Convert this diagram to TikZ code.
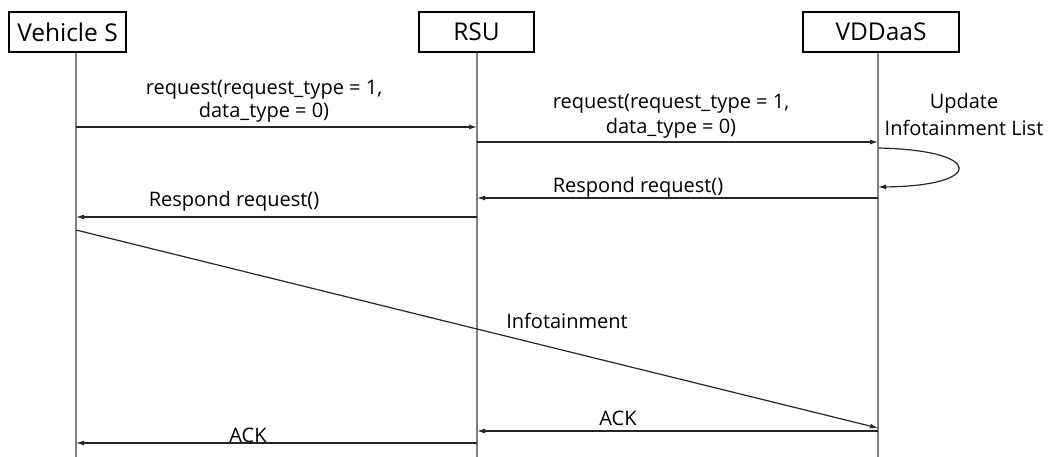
\documentclass[tikz,border=0pt]{standalone}
\usepackage{fontspec}
\setmainfont{Open Sans}
\usetikzlibrary{arrows.meta}

\begin{document}
\begin{tikzpicture}[x=1pt, y=-1pt, font=\fontsize{20}{23}\selectfont,
    actor/.style={draw, line width=1.2pt, minimum height=40pt, inner sep=0pt,
        font=\fontsize{24.5}{28}\selectfont},
    life/.style={draw=gray, line width=1.4pt},
    msg/.style={draw=black!85, line width=1.2pt, -{Latex[length=8pt, width=5pt]}},
    lbl/.style={align=center, inner sep=0pt}]
    \useasboundingbox (0,0) rectangle (1050,457);

    % Actors
    \node[actor, minimum width=117pt] (veh) at (67.5,32) {Vehicle S};
    \node[actor, minimum width=115pt] (rsu) at (476.5,32) {RSU};
    \node[actor, minimum width=156pt] (vdd) at (881,32) {VDDaaS};

    % Lifelines
    \coordinate (vehend) at (76,457);
    \coordinate (rsuend) at (477,457);
    \coordinate (vddend) at (878,457);
    \draw[life] (vehend |- veh.south) -- (vehend);
    \draw[life] (rsuend |- rsu.south) -- (rsuend);
    \draw[life] (vddend |- vdd.south) -- (vddend);

    % Message points
    \coordinate (v1) at (76,127);   \coordinate (r1) at (477,127);
    \coordinate (r2) at (477,142);  \coordinate (d2) at (878,142);
    \coordinate (d3) at (878,148);  \coordinate (d4) at (878,187);
    \coordinate (d5) at (878,198);  \coordinate (r5) at (477,198);
    \coordinate (r6) at (477,217);  \coordinate (v6) at (76,217);
    \coordinate (v7) at (76,230);   \coordinate (d7) at (878,428);
    \coordinate (d8) at (878,431);  \coordinate (r8) at (477,431);
    \coordinate (r9) at (477,443);  \coordinate (v9) at (76,443);

    % Messages
    \draw[msg] (v1) -- (r1);
    \draw[msg] (r2) -- (d2);
    \draw[msg] (d3) .. controls (985,150) and (985,186) .. (d4);
    \draw[msg] (d5) -- (r5);
    \draw[msg] (r6) -- (v6);
    \draw[msg] (v7) -- (d7);
    \draw[msg] (d8) -- (r8);
    \draw[msg] (r9) -- (v9);

    % Labels
    \node[lbl] (l1) at (264,101) {request(request\_type = 1,\\data\_type = 0)};
    \node[lbl, text depth=0pt] (l2) at (671,114)
        {request(request\_type = 1,\\[2pt]data\_type = 0)};
    \node[lbl] (l3) at (964,115) {Update\\[4pt]Infotainment List};
    \node[lbl] (l4) at (638,187) {Respond request()};
    \node[lbl] (l5) at (234,201) {Respond request()};
    \node[lbl] (l6) at (567,321) {Infotainment};
    \node[lbl] (l7) at (618,418) {ACK};
    \node[lbl] (l8) at (248,435) {ACK};
\end{tikzpicture}
\end{document}
